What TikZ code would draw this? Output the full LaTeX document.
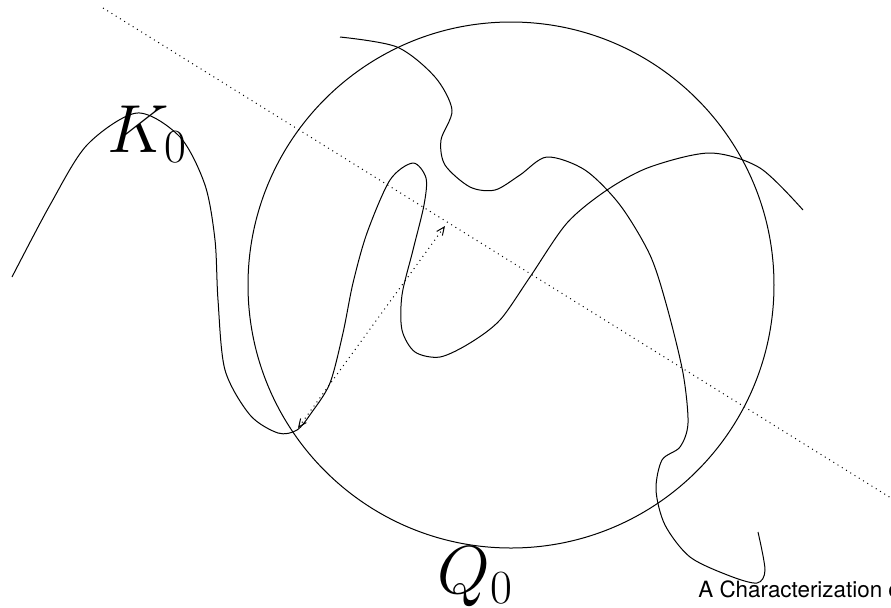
\RequirePackage{fix-cm}
\documentclass[tikz,border=0pt]{standalone}
\usepackage{fontspec}
\newfontfamily\capfont{TeX Gyre Heros}
\usetikzlibrary{arrows.meta}
\tikzset{
  wire/.style={line width=0.5pt, line join=round},
  guide/.style={line width=0.5pt, dotted},
  bigmath/.style={font=\fontsize{34}{40}\selectfont, inner sep=0pt, anchor=base west},
}

\begin{document}
\begin{tikzpicture}[x=0.5pt, y=-0.5pt]
\clip (0,0) rectangle (891,607);

% ---- the disc Q_0 ----
\draw[wire] (511,285) circle [radius=263];

% ---- the long curve through K_0 ----
\draw[wire] plot[smooth] coordinates {
  (12,277) (50,205) (87,145) (137,113) (180,137) (205,185) (215,240)
  (218,300) (225,370) (250,415) (278,433) (297,430) (312,412) (330,383)
  (343,333) (353,283) (367,233) (390,180) (413,163) (426,178) (424,205)
  (413,250) (402,295) (402,330) (415,352) (440,357) (470,343) (500,320)
  (530,277) (567,223) (607,190) (650,167) (710,153) (760,168) (803,210)};

% ---- the second curve ----
\draw[wire] plot[smooth] coordinates {
  (340,37) (397,47) (435,77) (452,110) (441,140) (445,165) (470,187)
  (495,190) (520,175) (547,157) (585,170) (620,205) (650,255) (667,307)
  (683,373) (688,423) (680,447) (662,460) (656,490) (665,525) (690,557)
  (730,576) (757,583) (765,570) (758,532)};

% ---- dotted line and dotted double arrow ----
\coordinate (lineA) at (103,8);
\coordinate (lineB) at (891,498);
\draw[guide] (lineA) -- (lineB);
\coordinate (tipN) at (445,226);
\coordinate (tipS) at (298,428);
\draw[guide, {Straight Barb[length=4pt, width=3.5pt]}-{Straight Barb[length=4pt, width=3.5pt]}] (tipS) -- (tipN);

% ---- labels ----
\node[bigmath] (K0) at (107,152) {$K_0$};
\node[bigmath] (Q0) at (437,593) {$Q_0$};
\node[font=\capfont\fontsize{11.2}{14}\selectfont, anchor=base west, inner sep=0pt]
  (caption) at (698,597) {A Characterization of};
\end{tikzpicture}
\end{document}
